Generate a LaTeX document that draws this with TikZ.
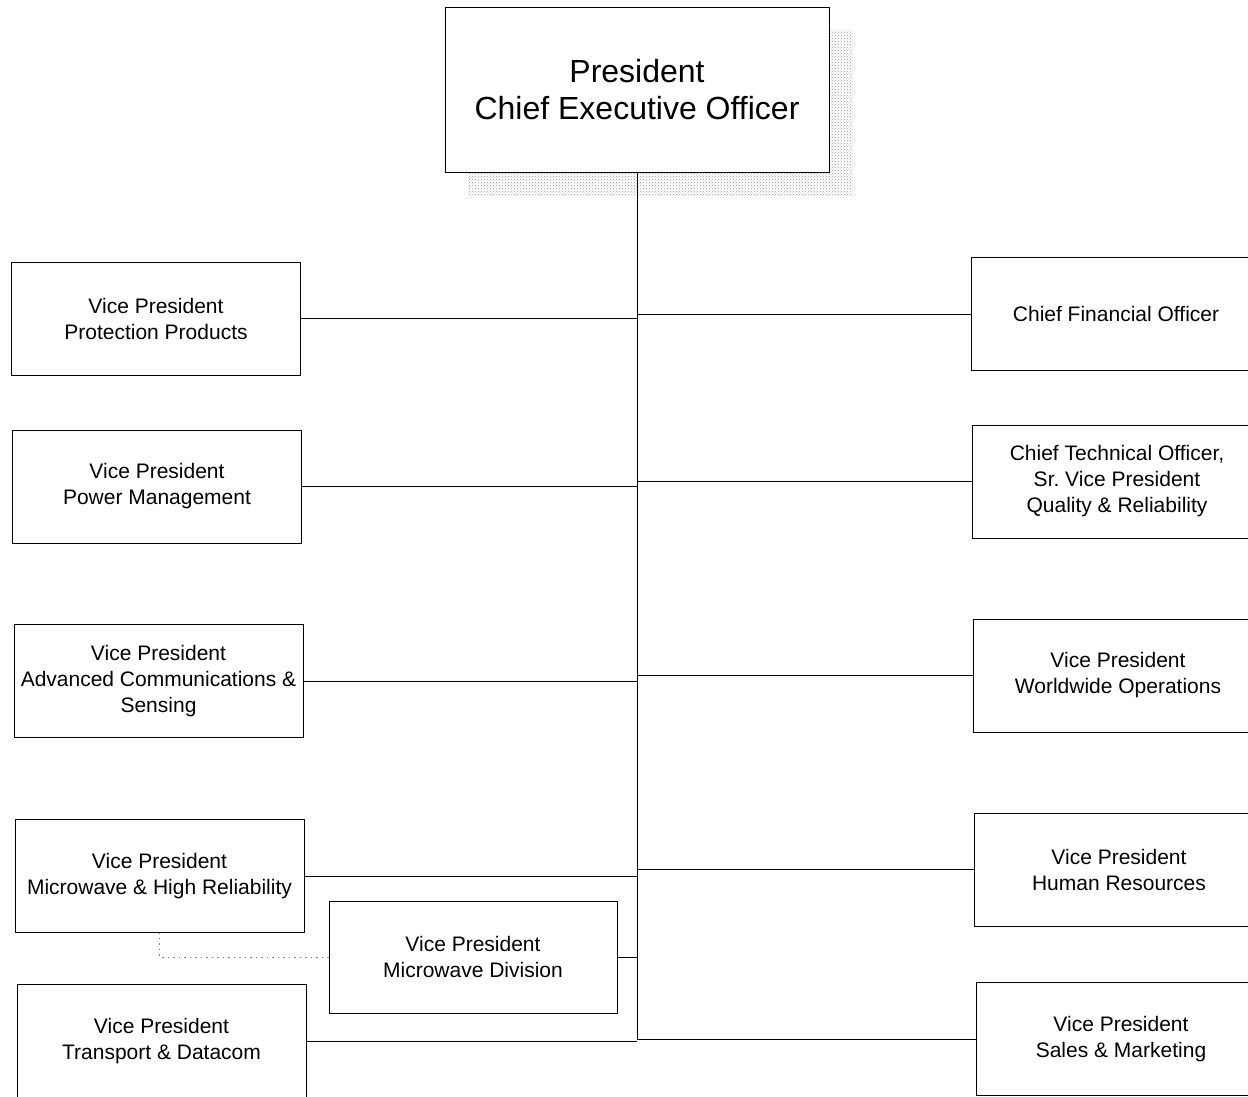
\documentclass[tikz,border=0pt]{standalone}
\usepackage{fontspec}
\setmainfont{Liberation Sans}
\usetikzlibrary{patterns}
\begin{document}
\begin{tikzpicture}[x=1pt,y=-1pt,
  box/.style={draw, line width=1pt, fill=white, minimum width=289pt, minimum height=113pt,
    align=center, inner sep=0pt, font=\fontsize{21}{26}\selectfont},
  conn/.style={line width=0.9pt},
  dotconn/.style={line width=0.9pt, dash pattern=on 1.5pt off 4pt, gray}]
\useasboundingbox (0,0) rectangle (1248,1096);
\clip (0,0) rectangle (1248,1096);
% shadow of the top box
\fill[pattern=crosshatch dots, pattern color=gray!80] (468,30) rectangle (853,195);
\node[box, minimum width=384pt, minimum height=165pt, font=\fontsize{32}{37}\selectfont]
  (ceo) at (637,89.5) {President\\Chief Executive Officer};
\coordinate (spine) at (637,1040);
% left column
\node[box] (lp1) at (156,318.5) {Vice President\\Protection Products};
\node[box] (lp2) at (157,486.5) {Vice President\\Power Management};
\node[box] (lp3) at (158.5,681) {Vice President\\Advanced Communications \&\\Sensing};
\node[box] (lp4) at (159.5,876) {Vice President\\Microwave \& High Reliability};
\node[box] (lp5) at (161.5,1041) {Vice President\\Transport \& Datacom};
\node[box, minimum width=288pt, minimum height=112pt] (md) at (473,957) {Vice President\\Microwave Division};
% right column
\node[box] (r1) at (1116,314) {Chief Financial Officer};
\node[box] (r2) at (1117,481.5) {Chief Technical Officer,\\Sr.\ Vice President\\Quality \& Reliability};
\node[box] (r3) at (1118,675.5) {Vice President\\Worldwide Operations};
\node[box] (r4) at (1119,869.5) {Vice President\\Human Resources};
\node[box] (r5) at (1121,1039) {Vice President\\Sales \& Marketing};
% connectors
\draw[conn] (ceo.south) -- (spine);
\foreach \n in {lp1,lp2,lp3,lp4,lp5,md}
  \draw[conn] (\n.east) -- (\n.east -| spine);
\foreach \n in {r1,r2,r3,r4,r5}
  \draw[conn] (\n.west -| spine) -- (\n.west);
\draw[dotconn] (md.west) -| (lp4.south);
\end{tikzpicture}
\end{document}
